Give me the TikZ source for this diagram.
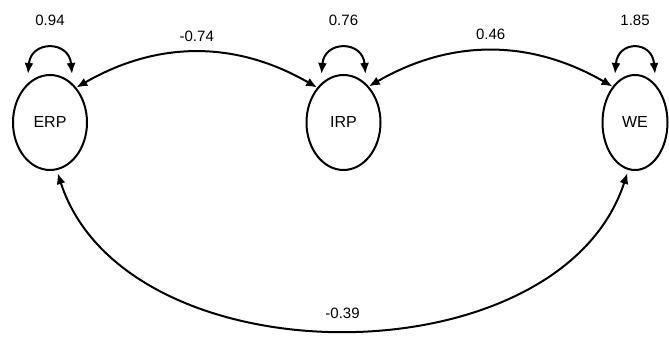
\documentclass[tikz,border=0pt]{standalone}
\usepackage{fontspec}
\setmainfont{Liberation Sans}
\usetikzlibrary{arrows.meta,shapes.geometric,positioning}
\tikzset{
  latent/.style={draw,ellipse,line width=2pt,minimum width=74pt,minimum height=95pt,inner sep=0pt,font=\fontsize{16}{18}\selectfont},
  covarrow/.style={line width=2pt,{Latex[length=11pt,width=9pt]}-{Latex[length=11pt,width=9pt]}},
  estimate/.style={font=\fontsize{15}{17}\selectfont,inner sep=2pt}
}

\begin{document}
\begin{tikzpicture}[x=1pt,y=1pt]
\useasboundingbox (0,0) rectangle (669,339);
\node[latent] (erp) at (50,216.5) {ERP};
\node[latent] (irp) at (343.5,216.5) {IRP};
\node[latent,minimum width=65pt] (we) at (635,216.5) {WE};
% variances
\draw[covarrow] ([xshift=-22pt]erp.north) to[out=85,in=95,distance=34pt] node[estimate,above=20pt]{0.94} ([xshift=22pt]erp.north);
\draw[covarrow] ([xshift=-22pt]irp.north) to[out=85,in=95,distance=34pt] node[estimate,above=20pt]{0.76} ([xshift=22pt]irp.north);
\draw[covarrow] ([xshift=-20pt]we.north) to[out=85,in=95,distance=34pt] node[estimate,above=20pt]{1.85} ([xshift=20pt]we.north);
% covariances
\draw[covarrow] (erp.53) to[out=30,in=150] node[estimate,above=8pt]{-0.74} (irp.127);
\draw[covarrow] (irp.55) to[out=30,in=150] node[estimate,above=8pt]{0.46} (we.122);
\draw[covarrow,shorten <=3pt,shorten >=3pt] (erp.-82) to[out=-72,in=-108] node[estimate,above=7pt]{-0.39} (we.-98);
\end{tikzpicture}
\end{document}
